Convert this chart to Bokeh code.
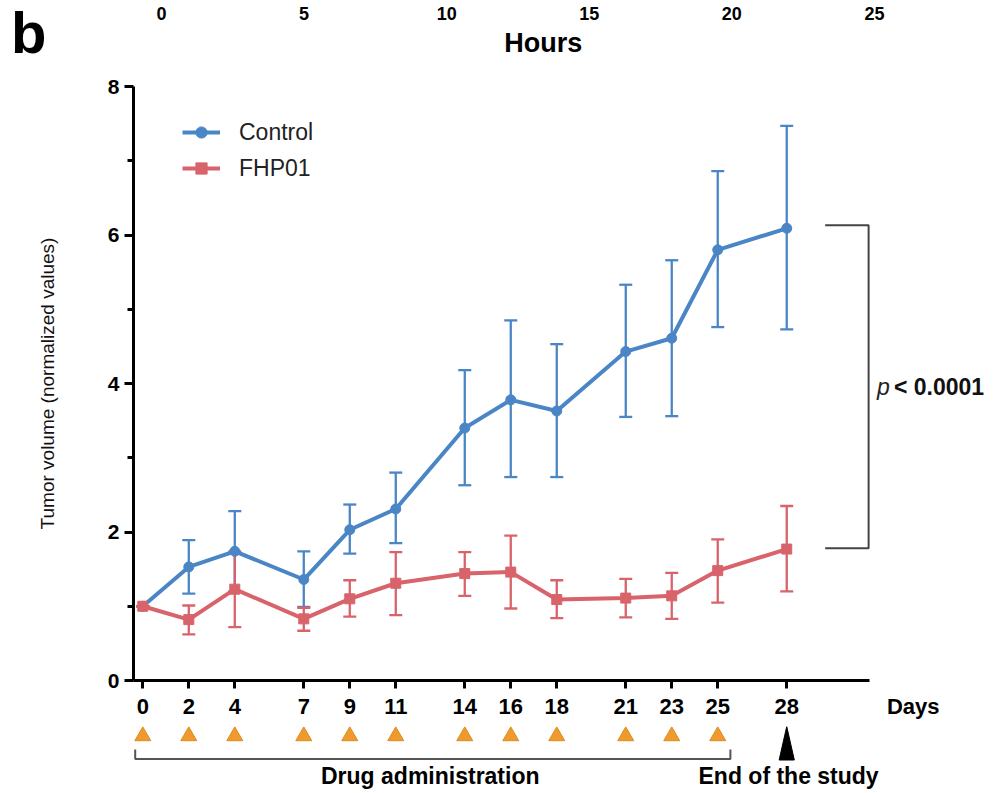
from bokeh.plotting import figure
from bokeh.models import (ColumnDataSource, Range1d, LinearAxis, FixedTicker, Whisker,
                          TeeHead, Label, Legend, LegendItem)
from bokeh.layouts import column
from bokeh.embed import file_html
from bokeh.resources import INLINE
from bokeh.core.properties import value

# ---------------- data ----------------
days = [0, 2, 4, 7, 9, 11, 14, 16, 18, 21, 23, 25, 28]
control_mean = [1.00, 1.53, 1.74, 1.36, 2.03, 2.31, 3.40, 3.78, 3.63, 4.43, 4.61, 5.80, 6.09]
control_hi   = [1.00, 1.89, 2.28, 1.74, 2.37, 2.80, 4.18, 4.85, 4.53, 5.33, 5.66, 6.86, 7.47]
control_lo   = [1.00, 1.17, 1.20, 0.99, 1.71, 1.85, 2.63, 2.74, 2.74, 3.55, 3.56, 4.76, 4.73]
fhp_mean = [1.00, 0.82, 1.23, 0.83, 1.10, 1.31, 1.44, 1.46, 1.09, 1.11, 1.14, 1.48, 1.77]
fhp_hi   = [1.00, 1.01, 1.74, 0.98, 1.35, 1.73, 1.73, 1.95, 1.35, 1.37, 1.45, 1.90, 2.35]
fhp_lo   = [1.00, 0.62, 0.72, 0.67, 0.86, 0.88, 1.14, 0.97, 0.84, 0.85, 0.83, 1.05, 1.20]
dose_days = [0, 2, 4, 7, 9, 11, 14, 16, 18, 21, 23, 25]
end_day = 28
hour_ticks = [0, 5, 10, 15, 20, 25]
y_major = [0, 2, 4, 6, 8]
y_minor = [1, 3, 5, 7]
series_names = ["Control", "FHP01"]
p_text = "< 0.0001"

BLUE = "#4A86C6"
RED = "#D8636A"
FONT = "Liberation Sans"
X_RANGE = (-0.404, 36.86)   # days
X_BOUNDS = (-0.404, 31.6)


def clean(fig):
    fig.outline_line_color = None
    fig.xgrid.visible = False
    fig.ygrid.visible = False
    fig.background_fill_color = "white"
    fig.border_fill_color = "white"


# ---------------- top strip: panel letter + hours axis ----------------
t = figure(width=993, height=72, output_backend="svg", toolbar_location=None,
           x_range=Range1d(-0.982, 29.07), y_range=Range1d(0, 63),
           x_axis_location=None, y_axis_location=None,
           min_border_left=133, min_border_right=3, min_border_top=0, min_border_bottom=8)
clean(t)
ha = LinearAxis(ticker=FixedTicker(ticks=hour_ticks))
ha.axis_line_color = None
ha.major_tick_line_color = None
ha.minor_tick_line_color = None
ha.major_tick_out = 0
ha.minor_tick_out = 0
ha.major_label_standoff = -19
ha.major_label_text_font = FONT
ha.major_label_text_font_style = "bold"
ha.major_label_text_font_size = "18px"
ha.major_label_text_color = "black"
t.add_layout(ha, "above")

ba = LinearAxis(ticker=FixedTicker(ticks=[]))
ba.axis_line_color = None
ba.major_tick_line_color = None
ba.minor_tick_line_color = None
ba.major_tick_out = 0
ba.minor_tick_out = 0
ba.major_label_standoff = 0
ba.axis_label = "b"
ba.axis_label_orientation = "horizontal"
ba.axis_label_standoff = 87
ba.axis_label_text_font = FONT
ba.axis_label_text_font_style = "bold"
ba.axis_label_text_font_size = "58px"
ba.axis_label_text_color = "black"
t.add_layout(ba, "left")

t.text(x=[13.39], y=[21], text=["Hours"], text_font=value(FONT), text_font_style="bold",
       text_font_size="27px", text_align="center", text_baseline="middle", text_color="black")

# ---------------- main figure ----------------
p = figure(width=993, height=618, output_backend="svg", toolbar_location=None,
           x_range=Range1d(*X_RANGE), y_range=Range1d(0, 8),
           x_axis_location=None, y_axis_location=None,
           min_border_left=133, min_border_right=3, min_border_top=14, min_border_bottom=10)
clean(p)

xa = LinearAxis(ticker=FixedTicker(ticks=days), bounds=X_BOUNDS)
xa.axis_line_width = 3
xa.axis_line_color = "black"
xa.major_tick_line_width = 3
xa.major_tick_out = 8
xa.major_tick_in = 0
xa.minor_tick_line_color = None
xa.major_label_standoff = 0
xa.major_label_text_font_size = "0px"
xa.major_label_text_color = None
p.add_layout(xa, "below")

ya = LinearAxis(ticker=FixedTicker(ticks=y_major, minor_ticks=y_minor), bounds=(0, 8))
ya.axis_line_width = 3
ya.axis_line_color = "black"
ya.major_tick_line_width = 3
ya.major_tick_out = 9
ya.major_tick_in = 0
ya.minor_tick_line_width = 3
ya.minor_tick_out = 6
ya.minor_tick_in = 0
ya.major_label_standoff = 5
ya.major_label_text_font = FONT
ya.major_label_text_font_style = "bold"
ya.major_label_text_font_size = "21px"
ya.major_label_text_color = "black"
ya.axis_label = "Tumor volume (normalized values)"
ya.axis_label_text_font = FONT
ya.axis_label_text_font_style = "normal"
ya.axis_label_text_font_size = "19px"
ya.axis_label_text_color = "#111111"
ya.axis_label_standoff = 47
p.add_layout(ya, "left")

src_c = ColumnDataSource(dict(x=days, y=control_mean, lo=control_lo, hi=control_hi))
src_f = ColumnDataSource(dict(x=days, y=fhp_mean, lo=fhp_lo, hi=fhp_hi))

for src, col in ((src_c, BLUE), (src_f, RED)):
    w = Whisker(source=src, base="x", upper="hi", lower="lo", level="underlay",
                line_color=col, line_width=2.3,
                upper_head=TeeHead(size=13, line_color=col, line_width=2.3),
                lower_head=TeeHead(size=13, line_color=col, line_width=2.3))
    p.add_layout(w)

lc = p.line("x", "y", source=src_c, line_color=BLUE, line_width=4)
mc = p.scatter("x", "y", source=src_c, marker="circle", size=10, fill_color=BLUE, line_color=BLUE)
lf = p.line("x", "y", source=src_f, line_color=RED, line_width=4)
mf = p.scatter("x", "y", source=src_f, marker="square", size=10, fill_color=RED, line_color=RED)

legend = Legend(items=[LegendItem(label=series_names[0], renderers=[lc, mc]),
                       LegendItem(label=series_names[1], renderers=[lf, mf])],
                location=(49, 498), padding=0, margin=0, spacing=8,
                glyph_width=38, glyph_height=28, label_standoff=19,
                label_text_font=FONT, label_text_font_size="23px", label_text_color="#222222",
                border_line_color=None, background_fill_alpha=0)
p.add_layout(legend, "center")

# significance bracket
bx0, bx1 = 29.67, 31.56
top_v, bot_v = control_mean[-1] + 0.04, fhp_mean[-1] + 0.01
p.line([bx0, bx1, bx1, bx0], [top_v, top_v, bot_v, bot_v], line_color="#444444", line_width=2)
mid_v = (top_v + bot_v) / 2
p.add_layout(Label(x=31.92, y=mid_v, text="p", text_font=FONT, text_font_style="italic",
                   text_font_size="23px", text_baseline="middle", text_align="left",
                   text_color="#222222"))
p.add_layout(Label(x=32.66, y=mid_v, text=p_text, text_font=FONT, text_font_style="bold",
                   text_font_size="23px", text_baseline="middle", text_align="left",
                   text_color="#111111"))

# ---------------- bottom strip: day labels + schedule ----------------
DAYS_POS = 33.5
q = figure(width=993, height=103, output_backend="svg", toolbar_location=None,
           x_range=p.x_range, y_range=Range1d(0, 70),
           x_axis_location=None, y_axis_location=None,
           min_border_left=133, min_border_right=3, min_border_top=33, min_border_bottom=0)
clean(q)
da = LinearAxis(ticker=FixedTicker(ticks=days + [DAYS_POS]))
da.major_label_overrides = {DAYS_POS: "Days"}
da.axis_line_color = None
da.major_tick_line_color = None
da.minor_tick_line_color = None
da.major_tick_out = 0
da.minor_tick_out = 0
da.major_label_standoff = 8
da.major_label_text_font = FONT
da.major_label_text_font_style = "bold"
da.major_label_text_font_size = "22px"
da.major_label_text_color = "black"
q.add_layout(da, "above")

q.scatter(dose_days, [60] * len(dose_days), marker="triangle", size=16,
          fill_color="#EE9A2C", line_color="#E08A20", line_width=1)
bl, br = dose_days[0] - 0.33, dose_days[-1] + 0.55
q.line([bl, bl, br, br], [46, 36, 36, 46], line_color="#555555", line_width=2)
q.patch([end_day, end_day - 0.33, end_day + 0.33], [70, 35, 35], fill_color="black", line_color="black")
q.text(x=[(dose_days[0] + dose_days[-1]) / 2], y=[18], text=["Drug administration"],
       text_font=value(FONT), text_font_style="bold", text_font_size="23px",
       text_align="center", text_baseline="middle", text_color="black")
q.text(x=[end_day + 0.08], y=[18], text=["End of the study"],
       text_font=value(FONT), text_font_style="bold", text_font_size="23px",
       text_align="center", text_baseline="middle", text_color="black")

layout = column(t, p, q, spacing=0)
open("out.html", "w").write(file_html(layout, INLINE))
